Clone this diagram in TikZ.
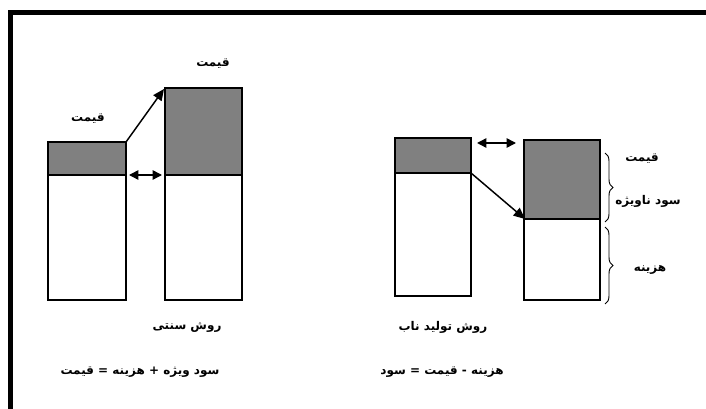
\documentclass[tikz,border=0pt]{standalone}
\usepackage{fontspec}
\usetikzlibrary{arrows.meta,decorations.pathreplacing}
\TeXXeTstate=1
\newfontfamily\fafont[Script=Arabic]{DejaVu Sans}
\definecolor{barfill}{HTML}{808080}
\tikzset{
  frameline/.style={line width=3.75pt},
  barbox/.style={line width=2.2pt},
  splitline/.style={line width=1pt},
  pointer/.style={line width=1.1pt,-{Triangle[length=8.5pt,width=7.5pt]}},
  gap/.style={line width=1.1pt,{Triangle[length=7pt,width=7pt]}-{Triangle[length=7pt,width=7pt]}},
  bracket/.style={line width=0.7pt,decorate,decoration={brace,amplitude=6pt}},
  lbl/.style={inner sep=0pt,font=\fafont\bfseries\fontsize{9}{11}\selectfont}
}
\newcommand{\fa}[1]{\beginR #1\endR}
\begin{document}
\begin{tikzpicture}[x=0.75pt,y=-0.75pt]
\useasboundingbox (0,0) rectangle (706,409);
% outer frame (top and left edges only)
\draw[frameline] (10.5,409) -- (10.5,12.5) -- (706,12.5);

% ---- traditional method: two bars ----
\coordinate (a1) at (48,142);  \coordinate (a2) at (126,300);
\coordinate (b1) at (165,88);  \coordinate (b2) at (242,300);
\fill[barfill] (a1) rectangle (126,175);
\fill[barfill] (b1) rectangle (242,175);
\draw[splitline] (48,175) -- (126,175);
\draw[splitline] (165,175) -- (242,175);
\draw[barbox] (a1) rectangle (a2);
\draw[barbox] (b1) rectangle (b2);
\coordinate (aTR) at (126,142);
\coordinate (bTL) at (164,89);
\draw[pointer] (aTR) -- (bTL);
\coordinate (g1) at (129,175); \coordinate (g2) at (162,175);
\draw[gap] (g1) -- (g2);

\node[lbl] (pa) at (88,119) {\fa{قیمت}};
\node[lbl] (pb) at (213,64) {\fa{قیمت}};
\node[lbl] (ta) at (187,327) {\fa{روش سنتی}};
\node[lbl] (fa) at (140,372) {\fa{سود ویژه + هزینه = قیمت}};

% ---- lean method: two bars ----
\coordinate (c1) at (395,138); \coordinate (c2) at (471,296);
\coordinate (d1) at (524,140); \coordinate (d2) at (600,300);
\fill[barfill] (c1) rectangle (471,173);
\fill[barfill] (d1) rectangle (600,219);
\draw[splitline] (395,173) -- (471,173);
\draw[splitline] (524,219) -- (600,219);
\draw[barbox] (c1) rectangle (c2);
\draw[barbox] (d1) rectangle (d2);
\coordinate (cMR) at (471,173);
\coordinate (dML) at (525,219);
\draw[pointer] (cMR) -- (dML);
\coordinate (h1) at (477,143); \coordinate (h2) at (516,143);
\draw[gap] (h1) -- (h2);

% braces beside the second bar
\coordinate (k1) at (605,153); \coordinate (k2) at (605,222);
\coordinate (k3) at (605,227); \coordinate (k4) at (605,304);
\draw[bracket] (k1) -- (k2);
\draw[bracket] (k3) -- (k4);

\node[lbl] (pr) at (642,159) {\fa{قیمت}};
\node[lbl] (sr) at (648,201) {\fa{سود ناویژه}};
\node[lbl] (hr) at (650,270) {\fa{هزینه}};
\node[lbl] (tb) at (443,327) {\fa{روش تولید ناب}};
\node[lbl] (fb) at (442,372) {\fa{هزینه - قیمت = سود}};
\end{tikzpicture}
\end{document}
